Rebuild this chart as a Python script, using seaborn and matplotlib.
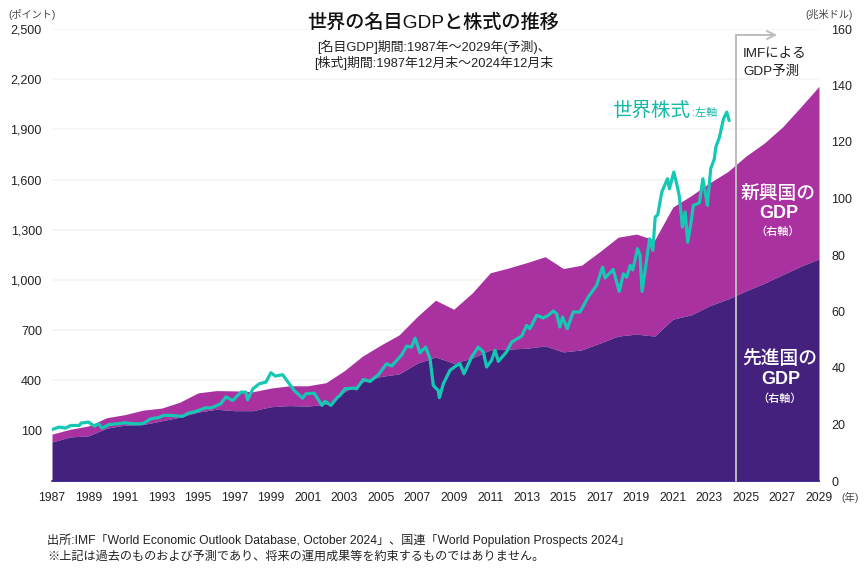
import numpy as np
import pandas as pd
import matplotlib
matplotlib.use('Agg')
import matplotlib.pyplot as plt
import seaborn as sns

sns.set_theme(style="white")
FONTS = ['Liberation Sans', 'Noto Sans CJK JP', 'DejaVu Sans']
plt.rcParams['font.family'] = FONTS

# GDP (trillion USD, right axis)
years = list(range(1987, 2030))
gdp_advanced = [13.8, 15.6, 16.0, 18.7, 19.8, 20.0, 21.3, 22.6, 24.4, 25.4, 24.9, 24.9, 26.3, 26.7, 26.5,
                27.2, 31.5, 35.0, 37.0, 37.9, 41.7, 43.9, 41.7, 43.5, 46.4, 46.7, 47.0, 47.8, 45.7, 46.4,
                48.8, 51.3, 52.0, 51.3, 57.3, 58.8, 62.0, 64.4, 67.3, 70.0, 73.0, 76.0, 78.6]
gdp_total = [16.6, 18.3, 19.5, 22.4, 23.5, 25.1, 25.8, 27.9, 31.2, 32.0, 31.9, 31.6, 32.9, 33.7, 33.7,
             34.8, 39.0, 44.2, 48.1, 51.7, 58.2, 64.0, 60.8, 66.5, 73.7, 75.4, 77.3, 79.4, 75.2, 76.4,
             81.2, 86.3, 87.4, 85.3, 97.0, 101.0, 105.5, 109.5, 115.0, 119.6, 125.3, 132.4, 139.7]

# world stock index (points, left axis), by period
t_early = [1987.0, 1987.4, 1987.73, 1988.04, 1988.5, 1988.59, 1989.0, 1989.32, 1989.55, 1989.74, 1990.14, 1990.6,
           1991.0, 1991.42, 1991.96, 1992.42, 1992.87, 1993.1, 1993.5, 1994.15, 1994.43, 1994.88, 1995.43, 1995.7,
           1996.25, 1996.52, 1996.89, 1997.35, 1997.62, 1997.71, 1998.0, 1998.35, 1998.71, 1998.99, 1999.23, 1999.63,
           1999.99, 2000.26, 2000.72, 2000.9, 2001.36, 2001.78, 2001.96, 2002.27, 2002.64]
v_early = [107, 121, 115, 131, 131, 145, 151, 127, 141, 115, 137, 141,
           147, 141, 141, 171, 179, 191, 191, 185, 203, 215, 237, 235,
           261, 302, 280, 330, 330, 284, 350, 380, 390, 446, 426, 434,
           380, 340, 294, 320, 324, 251, 275, 251, 300]
t_mid = [2002.77, 2003.04, 2003.50, 2003.68, 2004.05, 2004.41, 2004.87, 2005.32, 2005.60, 2006.15, 2006.42, 2006.69,
         2006.88, 2007.15, 2007.46, 2007.70, 2007.88, 2008.15, 2008.21, 2008.43, 2008.79, 2009.16, 2009.34, 2009.56,
         2009.98, 2010.34, 2010.62, 2010.80, 2011.07, 2011.26, 2011.44, 2011.89, 2012.17, 2012.72, 2012.99, 2013.17,
         2013.54, 2013.90, 2014.18, 2014.45, 2014.63, 2014.81, 2014.96, 2015.21, 2015.54, 2015.91, 2016.36, 2016.82,
         2017.15, 2017.28, 2017.73, 2018.06]
v_mid = [310, 350, 354, 350, 406, 394, 434, 500, 486, 553, 605, 599,
         653, 565, 599, 530, 370, 340, 297, 380, 460, 490, 500, 440,
         540, 599, 570, 480, 520, 580, 514, 570, 629, 665, 729, 709,
         789, 773, 789, 815, 799, 719, 779, 709, 809, 809, 898, 968,
         1077, 1012, 1063, 932]
t_late = [2018.29, 2018.47, 2018.66, 2018.8, 2019.06, 2019.2, 2019.31, 2019.57, 2019.72, 2019.9, 2020.03, 2020.17,
          2020.39, 2020.7, 2020.81, 2021.05, 2021.25, 2021.36, 2021.52, 2021.67, 2021.81, 2022.0, 2022.12, 2022.45,
          2022.64, 2022.89, 2023.07, 2023.27, 2023.35, 2023.55, 2023.77, 2023.95, 2024.08]
v_late = [1037, 1017, 1087, 1060, 1187, 1147, 932, 1127, 1246, 1177, 1376, 1390,
          1525, 1605, 1545, 1645, 1555, 1495, 1316, 1406, 1226, 1350, 1446, 1461,
          1605, 1446, 1665, 1724, 1794, 1854, 1963, 2003, 1953]

left_ticks = [100, 400, 700, 1000, 1300, 1600, 1900, 2200, 2500]
left_labels = ['100', '400', '700', '1,000', '1,300', '1,600', '1,900', '2,200', '2,500']
right_ticks = [0, 20, 40, 60, 80, 100, 120, 140, 160]
year_ticks = list(range(1987, 2030, 2))

DARK = '#44217c'
MAGENTA = '#aa31a0'
TEAL = '#14c8b4'
GREY = '#bdbdbd'
W, H = 868, 570

fig = plt.figure(figsize=(W / 100, H / 100), dpi=100, facecolor='white')
ax = fig.add_axes([52 / W, 1 - 481 / H, (819 - 52) / W, (481 - 29) / H])
ax2 = ax.twinx()
ax.set_zorder(1)
ax2.set_zorder(2)
ax2.patch.set_visible(False)

ax.set_xlim(1987, 2029)
ax.set_ylim(0, 160)
ax2.set_ylim(-201, 2500)

# grid belongs under the areas but follows the left scale
for t in left_ticks:
    ax.plot([0, 1], [t, t], transform=ax2.get_yaxis_transform(), color='#f5f5f5', lw=1.2, zorder=0)

ax.fill_between(years, gdp_advanced, gdp_total, color=MAGENTA, lw=0, zorder=1)
ax.fill_between(years, 0, gdp_advanced, color=DARK, lw=0, zorder=1)

df = pd.DataFrame({'t': t_early + t_mid + t_late, 'v': v_early + v_mid + v_late})
sns.lineplot(data=df, x='t', y='v', ax=ax2, color=TEAL, lw=2.3, errorbar=None, estimator=None, sort=False)
ax2.set_xlim(1987, 2029)
ax2.set_ylim(-201, 2500)
ax2.set_xlabel('')
ax2.set_ylabel('')

ax.yaxis.tick_right()
ax2.yaxis.tick_left()
ax.set_xticks(year_ticks)
ax.set_xticklabels([str(y) for y in year_ticks])
ax.set_yticks(right_ticks)
ax2.set_yticks(left_ticks)
ax2.set_yticklabels(left_labels)
ax.tick_params(axis='x', length=0, pad=8, labelsize=8.8, labelcolor='#222222')
ax.tick_params(axis='y', length=0, pad=9, labelsize=9, labelcolor='#222222')
ax2.tick_params(axis='y', length=0, pad=7.3, labelsize=9, labelcolor='#222222')
ax2.tick_params(axis='x', length=0, labelbottom=False)
for a in (ax, ax2):
    for s in a.spines.values():
        s.set_visible(False)
ax.spines['bottom'].set_visible(True)
ax.spines['bottom'].set_color('#3c1f8c')
ax.spines['bottom'].set_linewidth(1.2)


def txt(px, py, s, size, color='#222222', ha='left', weight='normal'):
    # CJK glyph boxes sit about 2px high with va=center
    fig.text(px / W, 1 - (py + 2) / H, s, fontsize=size, color=color, ha=ha, va='center', weight=weight, family=FONTS)


# forecast bracket
fig.add_artist(plt.Line2D([736 / W, 736 / W], [1 - 481 / H, 1 - 35 / H], color=GREY, lw=1.4, zorder=5))
fig.add_artist(plt.Line2D([736 / W, 775 / W], [1 - 35 / H, 1 - 35 / H], color=GREY, lw=1.4, zorder=5))
fig.add_artist(plt.Line2D([767 / W, 775 / W, 767 / W], [1 - 31 / H, 1 - 35 / H, 1 - 39 / H], color=GREY, lw=1.4, zorder=5))

txt(433, 21, '世界の名目GDPと株式の推移', 13.8, color='#111111', ha='center', weight='medium')
txt(434, 45, '[名目GDP]期間:1987年～2029年(予測)、', 9.3, ha='center')
txt(434, 61, '[株式]期間:1987年12月末～2024年12月末', 9.3, ha='center')
txt(8, 12, '(ポイント)', 7.3, color='#444444')
txt(805, 12, '(兆米ドル)', 7.3, color='#444444')
txt(841, 495, '(年)', 7.5, color='#444444')
txt(743, 52, 'IMFによる', 9.7)
txt(743, 70, 'GDP予測', 9.7)
txt(612, 109, '世界株式', 14, color='#14b8a6')
txt(692, 111, ':左軸', 8, color='#14b8a6')
txt(778, 192, '新興国の', 13.5, color='white', ha='center', weight='medium')
txt(778.5, 211, 'GDP', 13, color='white', ha='center', weight='bold')
txt(778, 230, '（右軸）', 8, color='white', ha='center', weight='medium')
txt(780, 357.5, '先進国の', 13.5, color='white', ha='center', weight='medium')
txt(780.5, 378, 'GDP', 13, color='white', ha='center', weight='bold')
txt(780, 397, '（右軸）', 8, color='white', ha='center', weight='medium')
txt(47, 538, '出所:IMF「World Economic Outlook Database, October 2024」、国連「World Population Prospects 2024」', 8.7)
txt(47, 555, '※上記は過去のものおよび予測であり、将来の運用成果等を約束するものではありません。', 8.7)

plt.savefig('out.png', dpi=100)
plt.close()
